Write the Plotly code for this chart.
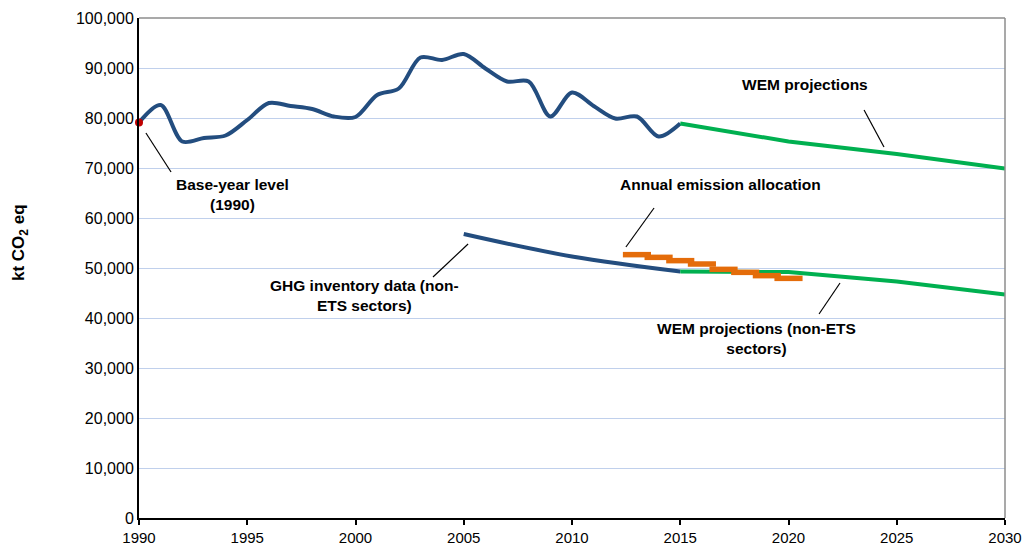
import plotly.graph_objects as go

# ---- data ----
hist_years = list(range(1990, 2016))
hist_total = [79100, 82600, 75300, 76000, 76500, 79600, 83000, 82400, 81800, 80300,
              80200, 84600, 85900, 92100, 91600, 92800, 89900, 87300, 87300, 80300,
              85100, 82400, 79900, 80300, 76300, 78900]

wem_years = [2015, 2020, 2025, 2030]
wem_total = [78900, 75300, 72800, 69900]

ghg_nonets_years = [2005, 2010, 2015]
ghg_nonets = [56800, 52300, 49300]

wem_nonets_years = [2015, 2020, 2025, 2030]
wem_nonets = [49300, 49200, 47300, 44700]

alloc_years = [2013, 2014, 2015, 2016, 2017, 2018, 2019, 2020]
alloc_values = [52670, 52130, 51470, 50800, 49730, 49130, 48470, 47930]

base_year = [1990]
base_value = [79100]

x_ticks = [1990, 1995, 2000, 2005, 2010, 2015, 2020, 2025, 2030]
y_ticks = list(range(0, 100001, 10000))
y_tick_text = [f"{v:,}" for v in y_ticks]

# ---- styles ----
BLUE = "#234d7f"
GREEN = "#00b050"
ORANGE = "#e46c0a"
RED = "#c00000"
FONT = "Liberation Sans, Arial, sans-serif"
half_w = 0.65  # half width of allocation steps (years)

fig = go.Figure()

fig.add_trace(go.Scatter(x=hist_years, y=hist_total, mode="lines",
                         line=dict(color=BLUE, width=4, shape="spline", smoothing=0.9),
                         showlegend=False, hoverinfo="skip"))
fig.add_trace(go.Scatter(x=wem_years, y=wem_total, mode="lines",
                         line=dict(color=GREEN, width=4), showlegend=False))
fig.add_trace(go.Scatter(x=ghg_nonets_years, y=ghg_nonets, mode="lines",
                         line=dict(color=BLUE, width=4, shape="spline"), showlegend=False))
fig.add_trace(go.Scatter(x=wem_nonets_years, y=wem_nonets, mode="lines",
                         line=dict(color=GREEN, width=4), showlegend=False))

ax, ay = [], []
for yr, v in zip(alloc_years, alloc_values):
    ax += [yr - half_w, yr + half_w, None]
    ay += [v, v, None]
fig.add_trace(go.Scatter(x=ax, y=ay, mode="lines",
                         line=dict(color=ORANGE, width=5.5), showlegend=False))

fig.add_trace(go.Scatter(x=base_year, y=base_value, mode="markers",
                         marker=dict(color=RED, size=8), showlegend=False, cliponaxis=False))

# leader lines
leaders = [
    ((1990.32, 77000), (1991.48, 69200)),
    ((2023.49, 81600), (2024.41, 74200)),
    ((2013.79, 62000), (2012.49, 54200)),
    ((2005.20, 54800), (2003.58, 48200)),
    ((2022.38, 47000), (2021.41, 40800)),
]
for (x0, y0), (x1, y1) in leaders:
    fig.add_shape(type="line", x0=x0, y0=y0, x1=x1, y1=y1,
                  line=dict(color="black", width=1.2))

labels = [
    (1994.3, 64700, "Base-year level<br>(1990)"),
    (2020.76, 86800, "WEM projections"),
    (2016.84, 66800, "Annual emission allocation"),
    (2000.4, 44600, "GHG inventory data (non-<br>ETS sectors)"),
    (2018.5, 36000, "WEM projections (non-ETS<br>sectors)"),
]
for x, y, t in labels:
    fig.add_annotation(x=x, y=y, text=f"<b>{t}</b>", showarrow=False,
                       font=dict(family=FONT, size=15.5, color="black"),
                       align="center")

# y-axis title
fig.add_annotation(xref="paper", yref="paper", x=-0.1374, y=0.55,
                   xanchor="center", yanchor="middle",
                   text="<b>kt CO<sub>2</sub> eq</b>", textangle=-90, showarrow=False,
                   font=dict(family=FONT, size=17, color="black"))

# right / top border
fig.add_shape(type="line", xref="paper", yref="paper", x0=1, x1=1, y0=0, y1=1,
              line=dict(color="#8c8c8c", width=1.5))
fig.add_shape(type="line", xref="paper", yref="paper", x0=0, x1=1, y0=1, y1=1,
              line=dict(color="#8c8c8c", width=1.5))

fig.update_xaxes(range=[1990, 2030], tickvals=x_ticks, ticktext=[str(t) for t in x_ticks],
                 showgrid=False, showline=True, linecolor="black", linewidth=2,
                 ticks="outside", ticklen=5, tickcolor="black", tickwidth=1.5,
                 tickfont=dict(family=FONT, size=15, color="black"), zeroline=False,
                 automargin=False)
fig.update_yaxes(range=[0, 100000], tickvals=y_ticks, ticktext=y_tick_text,
                 showgrid=True, gridcolor="#c0d0ec", gridwidth=1.2,
                 showline=True, linecolor="black", linewidth=2,
                 ticks="", tickfont=dict(family=FONT, size=16, color="black"),
                 zeroline=False, automargin=False)

fig.update_layout(width=1026, height=545, margin=dict(l=139, r=21, t=18, b=27),
                  plot_bgcolor="white", paper_bgcolor="white",
                  font=dict(family=FONT))

fig.write_html("out.html", config={"displayModeBar": False},
               post_script="document.body.style.margin='0';document.body.style.overflow='hidden';")
